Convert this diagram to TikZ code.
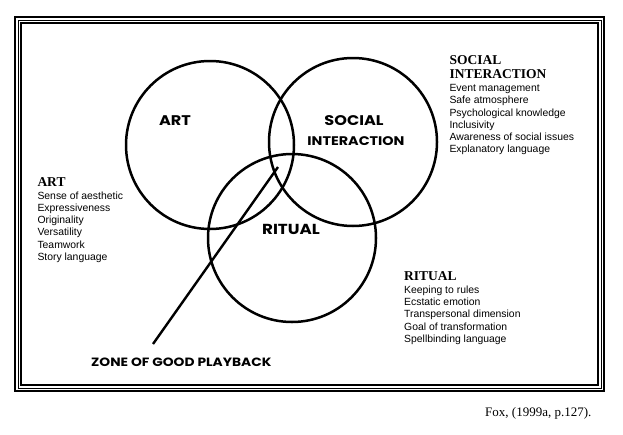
\documentclass[tikz,border=0pt]{standalone}
\usepackage{fontspec}
\setmainfont{Liberation Serif}
\newfontfamily\arialf{Liberation Sans}
\newfontfamily\comicf[FakeStretch=1.15]{Poppins}
\begin{document}
\begin{tikzpicture}[x=1pt,y=-1pt,
  ring/.style={draw,line width=2.5pt},
  frameline/.style={draw,line width=#1},
  item/.style={anchor=base west,inner sep=0pt,font=\arialf\fontsize{10.4}{12}\selectfont},
  head/.style={anchor=base west,inner sep=0pt,font=\bfseries\fontsize{13.5}{14}\selectfont},
  clabel/.style={anchor=base,inner sep=0pt,font=\comicf\bfseries\fontsize{#1}{14}\selectfont},
  cite/.style={anchor=base west,inner sep=0pt,font=\fontsize{13}{14}\selectfont}]
\useasboundingbox (0,0) rectangle (623,434);
\fill[white] (0,0) rectangle (623,434);
% frame
\draw[frameline=1.8pt] (15,17) rectangle (604,391);
\draw[frameline=1pt] (18,20) rectangle (601,388);
\draw[frameline=1.3pt] (21,23) rectangle (598,385);
% circles
\node[ring,circle,minimum size=168pt,inner sep=0pt] (art) at (210,145) {};
\node[ring,circle,minimum size=168pt,inner sep=0pt] (soc) at (353,142) {};
\node[ring,circle,minimum size=168pt,inner sep=0pt] (rit) at (292,238) {};
% circle labels
\node[clabel=14] (lart) at (175,125) {ART};
\node[clabel=14] (lsoc) at (354,125.7) {SOCIAL};
\node[clabel=12.5] (lint) at (356,145) {INTERACTION};
\node[clabel=14.5] (lrit) at (291,234) {RITUAL};
\node[clabel=12,anchor=base west] (zone) at (91,366.7) {ZONE OF GOOD PLAYBACK};
% pointer
\coordinate (ztop) at (278,167);
\coordinate (zbot) at (153,344);
\draw[line width=2.4pt] (ztop) -- (zbot);
% SOCIAL INTERACTION list
\node[head] (hs1) at (449.3,64) {SOCIAL};
\node[head] (hs2) at (449.3,78.3) {INTERACTION};
\foreach \t [count=\i from 0] in {Event management,Safe atmosphere,Psychological knowledge,Inclusivity,Awareness of social issues,Explanatory language}
  \node[item] (s\i) at (449.3,91.7+12.2*\i) {\t};
% ART list
\node[head] (ha) at (37.3,186) {ART};
\foreach \t [count=\i from 0] in {Sense of aesthetic,Expressiveness,Originality,Versatility,Teamwork,Story language}
  \node[item] (a\i) at (37.3,199+12.3*\i) {\t};
% RITUAL list
\node[head] (hr) at (404,280) {RITUAL};
\foreach \t [count=\i from 0] in {Keeping to rules,Ecstatic emotion,Transpersonal dimension,Goal of transformation,Spellbinding language}
  \node[item] (r\i) at (404,293.3+12.25*\i) {\t};
% citation
\node[cite] (cite) at (485,416) {Fox, (1999a, p.127).};
\end{tikzpicture}
\end{document}
